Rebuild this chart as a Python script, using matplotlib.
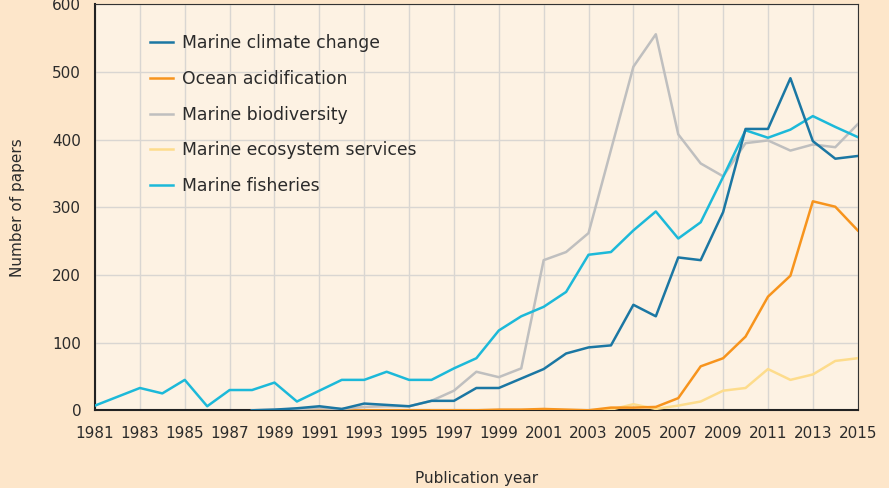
import numpy as np
import matplotlib.pyplot as plt

nan = np.nan
years = list(range(1981, 2016))

climate_change = [nan, nan, nan, nan, nan, nan, nan, 0, 1, 3,
                  6, 2, 10, 8, 6, 14, 14, 33, 33, 47,
                  61, 84, 93, 96, 156, 139, 226, 222, 293, 416,
                  416, 491, 398, 372, 376]
acidification = [nan, nan, nan, nan, nan, nan, nan, nan, nan, 0,
                 0, 0, 0, 0, 0, 0, 0, 0, 1, 1,
                 2, 1, 0, 4, 4, 5, 18, 65, 77, 109,
                 168, 199, 309, 301, 266]
biodiversity = [nan, nan, nan, nan, nan, nan, nan, 0, 1, 2,
                3, 2, 5, 6, 6, 14, 29, 57, 49, 62,
                222, 234, 262, 385, 508, 556, 408, 365, 346, 395,
                399, 384, 393, 389, 423]
ecosystem_services = [nan, nan, nan, nan, nan, nan, nan, nan, nan, nan,
                      nan, nan, nan, nan, nan, 0, 0, 0, 0, 0,
                      0, 0, 0, 1, 9, 2, 7, 13, 29, 33,
                      61, 45, 53, 73, 77]
fisheries = [7, 20, 33, 25, 45, 6, 30, 30, 41, 13,
             29, 45, 45, 57, 45, 45, 62, 77, 118, 139,
             153, 175, 230, 234, 266, 294, 254, 278, 345, 414,
             403, 415, 435, 419, 404]

series = [
    ("Marine climate change", climate_change, "#1b77a3"),
    ("Ocean acidification", acidification, "#f7941d"),
    ("Marine biodiversity", biodiversity, "#bfbfbf"),
    ("Marine ecosystem services", ecosystem_services, "#fddc8c"),
    ("Marine fisheries", fisheries, "#1cb9d9"),
]

plt.rcParams['font.family'] = ['DejaVu Sans']
text_color = "#2b2b2b"

fig = plt.figure(figsize=(8.89, 4.88), dpi=100, facecolor="#fde6ca")
ax = fig.add_axes([0.1069, 0.1592, 0.8579, 0.8316], facecolor="#fdf2e3")

# draw order: grey and light lines underneath
for idx in [3, 1, 2, 4, 0]:
    label, vals, color = series[idx]
    ax.plot(years, vals, color=color, lw=1.8, label=label, zorder=3)

ax.set_xlim(1981, 2015)
ax.set_ylim(0, 600)
ax.set_xticks(range(1981, 2016, 2))
ax.set_yticks(range(0, 601, 100))
ax.grid(True, color="#d9d6d2", lw=1.0, zorder=0)
ax.set_axisbelow(True)
ax.tick_params(length=0, labelsize=11, colors=text_color)
ax.tick_params(axis='y', pad=10)
ax.tick_params(axis='x', pad=11.5)

for side in ["top", "right"]:
    ax.spines[side].set_color("#333333")
    ax.spines[side].set_linewidth(0.8)
for side in ["left", "bottom"]:
    ax.spines[side].set_color("#222222")
    ax.spines[side].set_linewidth(1.5)

ax.set_xlabel("Publication year", fontsize=11, color=text_color, labelpad=21.5)
ax.set_ylabel("Number of papers", fontsize=11, color=text_color, labelpad=19.5)

handles, labels = ax.get_legend_handles_labels()
order = [labels.index(s[0]) for s in series]
leg = ax.legend([handles[i] for i in order], [labels[i] for i in order],
                loc="upper left", bbox_to_anchor=(0.052, 0.965), frameon=False,
                fontsize=12.4, handlelength=1.3, handletextpad=0.55,
                labelspacing=1.03, labelcolor=text_color)

fig.savefig("out.png", dpi=100, facecolor=fig.get_facecolor())
